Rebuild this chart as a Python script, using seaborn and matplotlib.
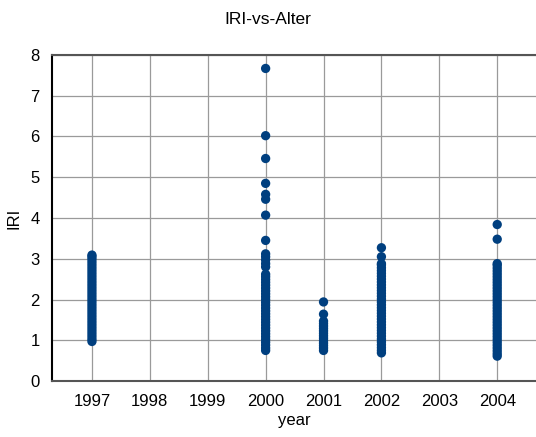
"""
Recreate the IRI-vs-Alter scatter: IRI readings per survey year.
"""

import numpy as np
import pandas as pd
import matplotlib
matplotlib.use("Agg")
import matplotlib.pyplot as plt
import seaborn as sns

# IRI values, one list per year
iri_1997 = [0.97, 1.03, 1.10, 1.17, 1.24, 1.31, 1.38, 1.45, 1.52, 1.59, 1.66, 1.73,
            1.80, 1.87, 1.94, 2.01, 2.08, 2.15, 2.22, 2.29, 2.36, 2.43, 2.50, 2.57,
            2.64, 2.71, 2.78, 2.85, 2.92, 2.99, 3.05, 3.09]
iri_2000 = [0.75, 0.81, 0.88, 0.95, 1.02, 1.09, 1.16, 1.23, 1.30, 1.37, 1.44, 1.51,
            1.58, 1.65, 1.72, 1.79, 1.86, 1.93, 2.00, 2.07, 2.14, 2.21, 2.28, 2.35,
            2.42, 2.49, 2.56, 2.62, 2.80, 2.88, 2.97, 3.05, 3.12, 3.45, 4.07, 4.46,
            4.58, 4.85, 5.46, 6.02, 7.67]
iri_2001 = [0.75, 0.81, 0.87, 0.93, 0.99, 1.05, 1.11, 1.17, 1.23, 1.29, 1.35, 1.41,
            1.47, 1.64, 1.94]
iri_2002 = [0.69, 0.75, 0.82, 0.89, 0.96, 1.03, 1.10, 1.17, 1.24, 1.31, 1.38, 1.45,
            1.52, 1.59, 1.66, 1.73, 1.80, 1.87, 1.94, 2.01, 2.08, 2.15, 2.22, 2.29,
            2.36, 2.43, 2.50, 2.57, 2.64, 2.71, 2.78, 2.85, 2.88, 3.05, 3.27]
iri_2004 = [0.61, 0.67, 0.74, 0.81, 0.88, 0.95, 1.02, 1.09, 1.16, 1.23, 1.30, 1.37,
            1.44, 1.51, 1.58, 1.65, 1.72, 1.79, 1.86, 1.93, 2.00, 2.07, 2.14, 2.21,
            2.28, 2.35, 2.42, 2.49, 2.56, 2.63, 2.70, 2.77, 2.84, 2.88, 3.48, 3.84]

years = [1997, 2000, 2001, 2002, 2004]
tick_years = [1997, 1998, 1999, 2000, 2001, 2002, 2003, 2004]

df = pd.concat([
    pd.DataFrame({"year": yr, "IRI": vals})
    for yr, vals in zip(years, [iri_1997, iri_2000, iri_2001, iri_2002, iri_2004])
])

sns.set_style("white")
plt.rcParams["font.family"] = ["Liberation Sans", "DejaVu Sans"]
plt.rcParams["text.color"] = "black"
plt.rcParams["axes.labelcolor"] = "black"

fig = plt.figure(figsize=(5.36, 4.37), dpi=100)
ax = fig.add_axes([52 / 536, 1 - 381 / 437, 1 - 52 / 536, (381 - 55) / 437])

sns.scatterplot(data=df, x="year", y="IRI", ax=ax, color="#003f7f",
                s=45, edgecolor="none", zorder=3, legend=False)

ax.set_xlim(1996.31, 2004.67)
ax.set_ylim(0, 8)
ax.set_xticks(tick_years)
ax.set_xticklabels([str(y) for y in tick_years])
ax.set_yticks(range(0, 9))

ax.grid(True, color="#9a9a9a", linewidth=0.9)
ax.set_axisbelow(True)

for side in ["top", "bottom"]:
    ax.spines[side].set_color("#555555")
    ax.spines[side].set_linewidth(1.5)
ax.spines["left"].set_color("black")
ax.spines["left"].set_linewidth(1.5)
ax.spines["right"].set_visible(False)

ax.tick_params(axis="both", labelsize=12, length=5, width=1, color="#555555",
               labelcolor="black", pad=4)

ax.set_xlabel("year", fontsize=12, labelpad=3)
ax.set_ylabel("IRI", fontsize=12, labelpad=6)
fig.suptitle("IRI-vs-Alter", fontsize=12.5, y=1 - 20 / 437, va="center")

fig.savefig("out.png", dpi=100)
plt.close()
